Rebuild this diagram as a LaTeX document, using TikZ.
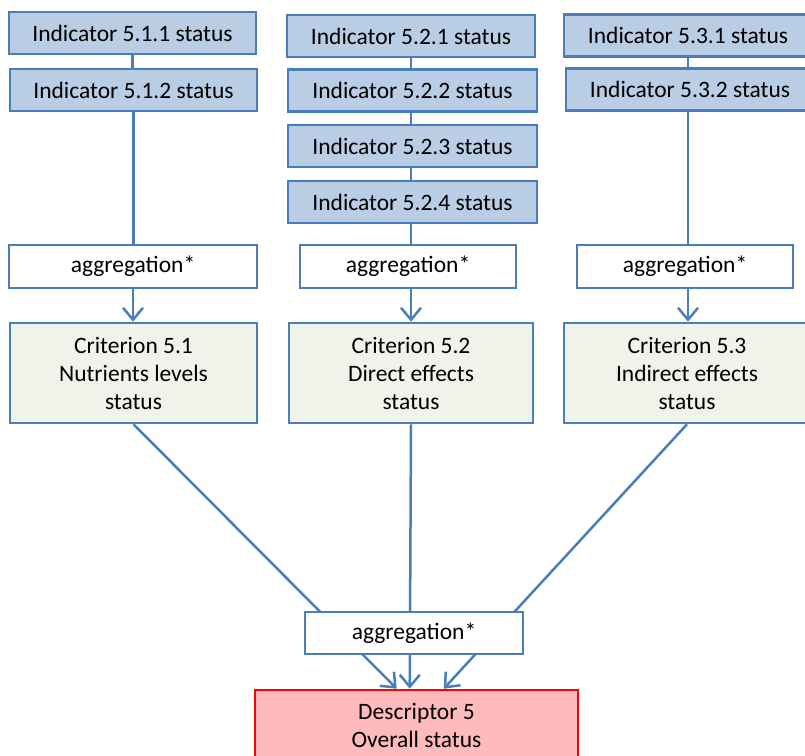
\documentclass[tikz,border=0pt]{standalone}
\usepackage{fontspec}
\setmainfont{Carlito}
\usetikzlibrary{arrows.meta,backgrounds,calc}

\definecolor{lineblue}{HTML}{4A7EBB}
\definecolor{indfill}{HTML}{B9CDE5}
\definecolor{critfill}{HTML}{F0F3EA}
\definecolor{descfill}{HTML}{FFBBBB}
\definecolor{descline}{HTML}{FF0000}

\tikzset{
  box/.style={draw=lineblue, line width=2.6pt, inner sep=0pt, align=center,
    font=\fontsize{23.5}{28}\selectfont},
  indicator/.style={box, fill=indfill, minimum width=248pt, minimum height=42pt},
  aggbox/.style={box, fill=white, line width=2pt, minimum width=216pt, minimum height=43pt},
  criterion/.style={box, fill=critfill, minimum height=100pt},
  descriptor/.style={box, fill=descfill, draw=descline, minimum width=323pt, minimum height=70pt},
  link/.style={draw=lineblue, line width=2.5pt},
  flow/.style={link, -{Straight Barb[length=12pt,width=20pt,line width=2.5pt]}}
}

\begin{document}
\begin{tikzpicture}[x=1pt,y=-1pt]
  \useasboundingbox (0,0) rectangle (805,755);

  % indicators, column 5.1
  \node[indicator, minimum width=247pt] (i511) at (132.5,33) {Indicator 5.1.1 status};
  \node[indicator, minimum width=247pt] (i512) at (133.5,90) {Indicator 5.1.2 status};
  % indicators, column 5.2
  \node[indicator] (i521) at (411,36) {Indicator 5.2.1 status};
  \node[indicator, minimum width=249pt] (i522) at (412.5,90.5) {Indicator 5.2.2 status};
  \node[indicator, minimum width=249pt] (i523) at (412.5,146) {Indicator 5.2.3 status};
  \node[indicator, minimum width=249pt] (i524) at (412.5,202) {Indicator 5.2.4 status};
  % indicators, column 5.3
  \node[indicator] (i531) at (688,35.5) {Indicator 5.3.1 status};
  \node[indicator] (i532) at (690,89.5) {Indicator 5.3.2 status};

  % aggregation steps per criterion
  \node[aggbox, minimum width=248pt] (agg1) at (133,266.5) {aggregation*};
  \node[aggbox] (agg2) at (408,266.5) {aggregation*};
  \node[aggbox] (agg3) at (685,266.5) {aggregation*};

  % criteria
  \node[criterion, minimum width=247pt] (c1) at (133.5,373) {Criterion 5.1\\Nutrients levels\\status};
  \node[criterion, minimum width=244pt] (c2) at (411,373) {Criterion 5.2\\Direct effects\\status};
  \node[criterion, minimum width=246pt] (c3) at (687,373) {Criterion 5.3\\Indirect effects\\status};

  % final aggregation and descriptor
  \node[aggbox, minimum width=218pt, minimum height=42pt] (aggB) at (414,633) {aggregation*};
  \node[descriptor] (desc) at (416.5,725) {Descriptor 5\\Overall status};

  \begin{pgfonlayer}{background}
    \fill[white] (0,0) rectangle (805,755);
    % column 5.1
    \path[link] (i511.south) -- (i511.south |- i512.north);
    \path[link] (i512.south) -- (i512.south |- agg1.north);
    \path[flow] (agg1.south) -- (agg1.south |- c1.north);
    % column 5.2
    \path[link] (i521.south) -- (i521.south |- i522.north);
    \path[link] (i522.south -| i521.south) -- (i521.south |- i523.north);
    \path[link] (i523.south -| i521.south) -- (i521.south |- i524.north);
    \path[link] (i524.south -| i521.south) -- (i521.south |- agg2.north);
    \path[flow] (agg2.south -| i521.south) -- (i521.south |- c2.north);
    % column 5.3
    \path[link] (i531.south) -- (i531.south |- i532.north);
    \path[link] (i532.south -| i531.south) -- (i531.south |- agg3.north);
    \path[flow] (agg3.south -| i531.south) -- (i531.south |- c3.north);
    % criteria to descriptor, through the final aggregation
    \path[flow] (c1.south) -- ($(desc.north west)+(143,0)$);
    \path[flow] (c2.south) -- ($(desc.north west)+(156,0)$);
    \path[flow] (c3.south) -- ($(desc.north west)+(190,0)$);
  \end{pgfonlayer}
\end{tikzpicture}
\end{document}
